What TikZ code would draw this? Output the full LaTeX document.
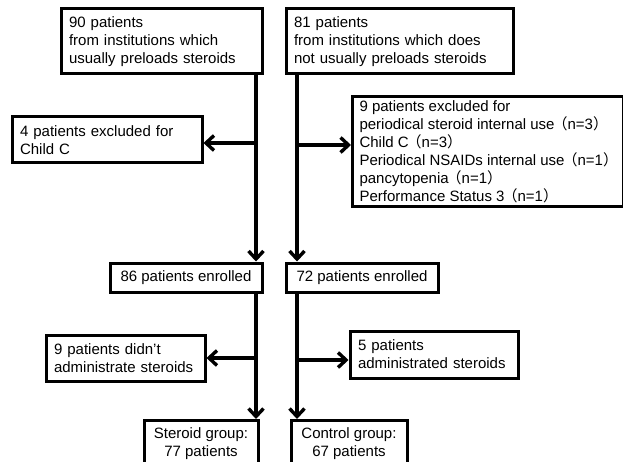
\documentclass[tikz,border=0pt]{standalone}
\usepackage{fontspec}
\setmainfont{Liberation Sans}
\newfontfamily\cjk{Noto Sans CJK JP}
\usetikzlibrary{arrows.meta}
\newcommand{\lp}{{\cjk\kern-2pt （}}
\newcommand{\rp}{{\cjk ）\kern-2pt}}
\begin{document}
\begin{tikzpicture}[x=1pt,y=-1pt,
  box/.style={draw,line width=3pt,inner xsep=8pt,inner ysep=0pt,align=left,font=\fontsize{15}{18}\selectfont},
  cbox/.style={draw,line width=3pt,inner sep=0pt,align=center,font=\fontsize{15}{18}\selectfont},
  arr/.style={line width=3.4pt,-{Straight Barb[length=8pt,width=15pt]}}]
\useasboundingbox (0,0) rectangle (623,462);
\coordinate (L) at (256,0);
\coordinate (R) at (297,0);
\node[box,minimum height=65pt,text width=185pt] (A) at (161.5,41.5) {90 patients\\from institutions which\\usually preloads steroids};
\node[box,minimum height=65pt,text width=211pt] (B) at (399.5,41.5) {81 patients\\from institutions which does\\not usually preloads steroids};
\node[box,minimum height=46pt,text width=174pt] (C) at (107,140) {4 patients excluded for\\Child C};
\node[box,inner xsep=7pt,minimum height=110pt,anchor=west] (D) at (351,152) {9 patients excluded for\\periodical steroid internal use\lp n=3\rp\\Child C\lp n=3\rp\\Periodical NSAIDs internal use\lp n=1\rp\\pancytopenia\lp n=1\rp\\Performance Status 3\lp n=1\rp};
\node[cbox,minimum height=29pt,minimum width=152pt] (E) at (186,277.5) {86 patients enrolled};
\node[cbox,minimum height=29pt,minimum width=152pt] (F) at (362,277.5) {72 patients enrolled};
\node[box,minimum height=46pt,text width=143pt] (G) at (125.5,358) {9 patients didn't\\administrate steroids};
\node[box,minimum height=47pt,text width=152pt] (H) at (434,354.5) {5 patients\\administrated steroids};
\node[cbox,minimum height=47pt,minimum width=114pt,anchor=north] (I) at (201,419) {Steroid group:\\77 patients};
\node[cbox,minimum height=47pt,minimum width=116pt,anchor=north] (J) at (349,419) {Control group:\\67 patients};
\coordinate (Ce) at ([yshift=-3pt]C.east);
\coordinate (Dw) at ([yshift=7pt]D.west);
\coordinate (Hw) at ([yshift=-5.5pt]H.west);
\draw[arr] (A.south -| L) -- (E.north -| L);
\draw[arr] (B.south -| R) -- (F.north -| R);
\draw[arr] (L |- Ce) -- (Ce);
\draw[arr] (R |- Dw) -- (Dw);
\draw[arr] (E.south -| L) -- (I.north -| L);
\draw[arr] (F.south -| R) -- (J.north -| R);
\draw[arr] (L |- G.east) -- (G.east);
\draw[arr] (R |- Hw) -- (Hw);
\end{tikzpicture}
\end{document}
